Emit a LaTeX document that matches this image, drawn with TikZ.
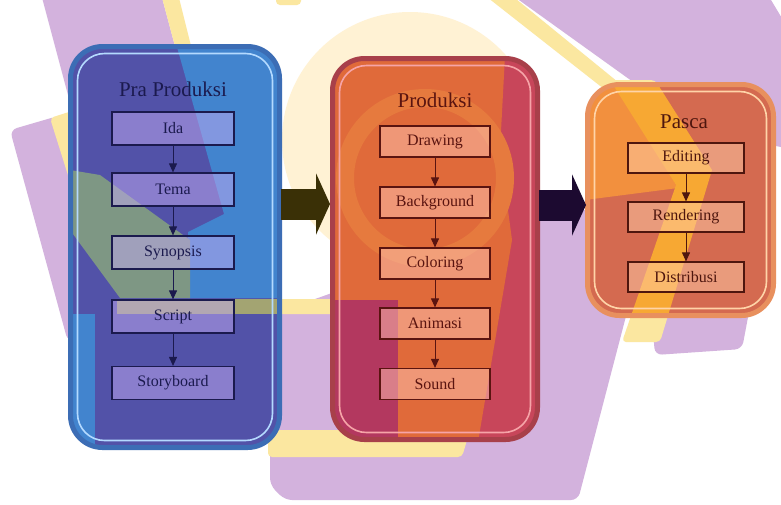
\documentclass[tikz,border=0pt]{standalone}
\usepackage{fontspec}
\setmainfont{Liberation Serif}
\usetikzlibrary{arrows.meta}
\definecolor{wmpurple}{HTML}{D3B2DD}
\definecolor{wmyellow}{HTML}{FBE7A0}
\definecolor{wmcream}{HTML}{FFF2D4}
\definecolor{praBase}{HTML}{5252A8}
\definecolor{praLight}{HTML}{4284CE}
\definecolor{praGreen}{HTML}{7E9784}
\definecolor{praYel}{HTML}{A3A472}
\definecolor{praEdge}{HTML}{3C6DB5}
\definecolor{praLine}{HTML}{B4DAFF}
\definecolor{praInk}{HTML}{1B1A4E}
\definecolor{prodBase}{HTML}{C8465A}
\definecolor{prodOrange}{HTML}{E06A3A}
\definecolor{prodRing}{HTML}{E67A3E}
\definecolor{prodMag}{HTML}{B3385F}
\definecolor{prodEdge}{HTML}{A8404A}
\definecolor{prodLine}{HTML}{F6A4A8}
\definecolor{prodInk}{HTML}{5A1410}
\definecolor{pasBase}{HTML}{D46A50}
\definecolor{pasOrange}{HTML}{F2903E}
\definecolor{pasYel}{HTML}{F7A833}
\definecolor{pasEdge}{HTML}{E8905E}
\definecolor{pasLine}{HTML}{FFD4A8}
\definecolor{pasInk}{HTML}{4E160E}
\definecolor{arrowA}{HTML}{3A3006}
\definecolor{arrowB}{HTML}{1C0A30}
\definecolor{praBoxFill}{HTML}{C2AAF2}
\definecolor{prodBoxFill}{HTML}{FFC4B4}
\definecolor{pasBoxFill}{HTML}{FFCDA8}
\begin{document}
\begin{tikzpicture}[x=1pt,y=-1pt,
  wmp/.style={fill=wmpurple, rounded corners=7pt},
  wmy/.style={fill=wmyellow, rounded corners=4pt},
  contfill/.style={rectangle, rounded corners=32pt, inner sep=0pt, draw=none},
  contedge/.style={rectangle, rounded corners=32pt, inner sep=0pt, line width=5pt},
  contline/.style={rectangle, rounded corners=27pt, inner sep=0pt, line width=1.6pt},
  stepbox/.style={rectangle, inner sep=0pt, line width=1.2pt, font=\fontsize{16}{18}\selectfont},
  prabox/.style={stepbox, minimum width=122pt, minimum height=33pt, draw=praInk, fill=praBoxFill, fill opacity=0.5, text opacity=1, text=praInk},
  prodbox/.style={stepbox, minimum width=110pt, minimum height=31pt, draw=prodInk, fill=prodBoxFill, fill opacity=0.5, text opacity=1, text=prodInk},
  pasbox/.style={stepbox, minimum width=116pt, minimum height=30pt, draw=pasInk, fill=pasBoxFill, fill opacity=0.5, text opacity=1, text=pasInk},
  ttl/.style={font=\fontsize{21}{24}\selectfont, inner sep=0pt},
  flow/.style={-{Triangle[length=9pt,width=8pt]}, line width=1pt},
  big/.style={line width=31pt, -{Triangle[length=14pt,width=61pt]}}
]
\useasboundingbox (0,0) rectangle (781,504);
\clip (0,0) rectangle (781,504);
\fill[white] (0,0) rectangle (781,504);

% ---- background watermark ----
\fill[wmcream] (410,140) circle (128);
\fill[wmp] (40,-10) -- (160,-10) -- (200,140) -- (80,140) -- cycle;
\fill[wmy] (160,-10) -- (177,-10) -- (192,50) -- (176,50) -- cycle;
\fill[wmp] (10,130) -- (58,116) -- (110,300) -- (68,342) -- cycle;
\fill[wmy] (50,118) -- (72,111) -- (72,188) -- cycle;
\fill[wmy] (276,-8) rectangle (301,5);
\fill[wmp] (505,-10) -- (765,-10) -- (795,40) -- (795,150) -- (700,130) -- cycle;
\fill[wmy] (478,-10) -- (505,-10) -- (640,100) -- (618,100) -- cycle;
\fill[wmp] (270,315) -- (560,212) -- (655,205) -- (578,500) -- (285,500) -- (270,485) -- cycle;
\fill[wmy] (100,299) rectangle (340,314);
\fill[wmy] (268,430) -- (470,430) -- (462,457) -- (268,457) -- cycle;
\fill[wmp] (650,296) -- (752,296) -- (742,349) -- (655,355) -- cycle;
\fill[wmy] (610,80) -- (655,80) -- (712,170) -- (660,342) -- (622,342) -- (676,185) -- cycle;

% ---- container fills ----
\node[contfill, fill=praBase, minimum width=209pt, minimum height=401pt] (praF) at (175,247) {};
\node[contfill, fill=prodBase, minimum width=205pt, minimum height=381pt] (prodF) at (435,249) {};
\node[contfill, fill=pasBase, minimum width=186pt, minimum height=231pt] (pasF) at (680.5,200) {};

% ---- tints inside Pra Produksi ----
\begin{scope}
\clip[rounded corners=32pt] (70.5,46.5) rectangle (279.5,447.5);
\fill[praLight] (175,40) -- (290,40) -- (290,298) -- (188,298) -- (188,232) -- (224,214) -- cycle;
\fill[praGreen] (70,170) -- (100,175) -- (190,240) -- (190,298) -- (120,298) -- (70,230) -- cycle;
\fill[praYel] (117,299) rectangle (290,314);
\fill[praLight] (70,314) rectangle (95,450);
\end{scope}
% ---- tints inside Produksi ----
\begin{scope}
\clip[rounded corners=32pt] (332.5,58.5) rectangle (537.5,439.5);
\fill[prodOrange] (330,56) -- (505,56) -- (500,150) -- (512,240) -- (478,442) -- (398,442) -- (398,300) -- (330,300) -- cycle;
\draw[prodRing, line width=18pt] (425,178) circle (80);
\fill[prodMag] (330,300) rectangle (398,442);
\end{scope}
% ---- tints inside Pasca ----
\begin{scope}
\clip[rounded corners=32pt] (587.5,84.5) rectangle (773.5,315.5);
\fill[pasOrange] (585,80) -- (612,80) -- (678,188) -- (585,200) -- cycle;
\fill[pasYel] (610,80) -- (655,80) -- (712,170) -- (660,342) -- (622,342) -- (676,185) -- cycle;
\end{scope}

% ---- container borders ----
\node[contedge, draw=praEdge, minimum width=209pt, minimum height=401pt] (pra) at (praF) {};
\node[contline, draw=praLine, minimum width=195pt, minimum height=387pt] (praIn) at (praF) {};
\node[contedge, draw=prodEdge, minimum width=205pt, minimum height=381pt] (prod) at (prodF) {};
\node[contline, draw=prodLine, minimum width=191pt, minimum height=367pt] (prodIn) at (prodF) {};
\node[contedge, draw=pasEdge, minimum width=186pt, minimum height=231pt] (pas) at (pasF) {};
\node[contline, draw=pasLine, minimum width=172pt, minimum height=217pt] (pasIn) at (pasF) {};

% ---- titles ----
\node[ttl, text=praInk] (tPra) at (173,89) {Pra Produksi};
\node[ttl, text=prodInk] (tProd) at (435,100) {Produksi};
\node[ttl, text=pasInk] (tPas) at (684,122) {Pasca};

% ---- Pra Produksi steps ----
\node[prabox] (ida) at (173,128.5) {Ida};
\node[prabox] (tema) at (173,189.5) {Tema};
\node[prabox] (syn) at (173,252.5) {Synopsis};
\node[prabox] (scr) at (173,316.5) {Script};
\node[prabox] (sto) at (173,383) {Storyboard};
\draw[flow, praInk] (ida) -- (tema);
\draw[flow, praInk] (tema) -- (syn);
\draw[flow, praInk] (syn) -- (scr);
\draw[flow, praInk] (scr) -- (sto);

% ---- Produksi steps ----
\node[prodbox] (draw) at (435,141.5) {Drawing};
\node[prodbox] (back) at (435,202.5) {Background};
\node[prodbox] (col) at (435,263.5) {Coloring};
\node[prodbox] (ani) at (435,323.5) {Animasi};
\node[prodbox] (snd) at (435,384) {Sound};
\draw[flow, prodInk] (draw) -- (back);
\draw[flow, prodInk] (back) -- (col);
\draw[flow, prodInk] (col) -- (ani);
\draw[flow, prodInk] (ani) -- (snd);

% ---- Pasca steps ----
\node[pasbox] (edit) at (686,158) {Editing};
\node[pasbox] (rend) at (686,217) {Rendering};
\node[pasbox] (dist) at (686,277) {Distribusi};
\draw[flow, pasInk] (edit) -- (rend);
\draw[flow, pasInk] (rend) -- (dist);

% ---- block arrows between stages ----
\coordinate (a1s) at (281,204);
\coordinate (a1e) at (330,204);
\coordinate (a2s) at (539,205);
\coordinate (a2e) at (586,205);
\draw[big, arrowA] (a1s) -- (a1e);
\draw[big, arrowB] (a2s) -- (a2e);
\end{tikzpicture}
\end{document}
